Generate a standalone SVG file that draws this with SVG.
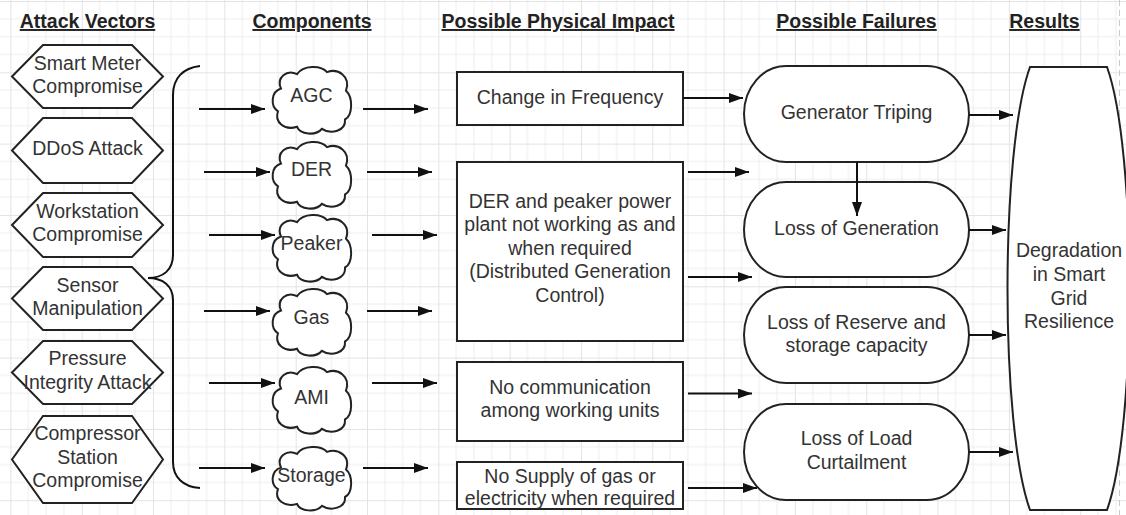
<svg xmlns="http://www.w3.org/2000/svg" width="1126" height="515" viewBox="0 0 1126 515">
<style>
.hdr{font-family:"Liberation Sans",Arial,sans-serif;font-size:19.5px;font-weight:bold;fill:#222;text-anchor:middle;text-decoration:underline}
.t{font-family:"Liberation Sans",Arial,sans-serif;font-size:19.5px;fill:#333;text-anchor:middle}
.shp{fill:#fff;stroke:#222;stroke-width:2}
.cl{fill:#fff;stroke:#222;stroke-width:2;vector-effect:non-scaling-stroke}
.con{fill:none;stroke:#111;stroke-width:2}
.arr{fill:none;stroke:#111;stroke-width:2;marker-end:url(#ah)}
</style>
<defs>
<pattern id="grid" patternUnits="userSpaceOnUse" x="10.4" y="1" width="71.32" height="71.32">
<path d="M0,17.83H71.32M0,35.66H71.32M0,53.49H71.32M17.83,0V71.32M35.66,0V71.32M53.49,0V71.32" stroke="#ededed" stroke-width="1" fill="none"/>
<path d="M0,0.5H71.32M0.5,0V71.32" stroke="#e3e3e3" stroke-width="1" fill="none"/>
</pattern>
<marker id="ah" markerUnits="userSpaceOnUse" markerWidth="14" markerHeight="10" refX="14" refY="5" orient="auto">
<path d="M0,0L14,5L0,10Z" fill="#111"/>
</marker>
<path id="cloud" d="M8,20C3,9 14,1 24,6C30,-3 48,-3 54,4C65,0 78,8 73,22C80,28 80,46 72,50C73,61 58,65 49,59C43,66 27,65 24,57C12,61 1,53 5,42C-3,37 -2,23 8,20Z"/>
</defs>
<rect width="1126" height="515" fill="#fff"/>
<rect width="1126" height="515" fill="url(#grid)"/>
<line x1="1119.5" y1="0" x2="1119.5" y2="515" stroke="#c8c8c8" stroke-width="1" stroke-dasharray="6,4"/>

<g id="headers">
<text class="hdr" x="87.5" y="28">Attack Vectors</text>
<text class="hdr" x="312" y="28">Components</text>
<text class="hdr" x="558" y="28">Possible Physical Impact</text>
<text class="hdr" x="856.5" y="28">Possible Failures</text>
<text class="hdr" x="1044.5" y="28">Results</text>
</g>

<g id="av-smart-meter"><polygon class="shp" points="12,76.5 43,45 132,45 163,76.5 132,108 43,108"/><text class="t" x="87.5" y="70">Smart Meter</text><text class="t" x="87.5" y="93">Compromise</text></g>
<g id="av-ddos"><polygon class="shp" points="12,150.5 43,118 132,118 163,150.5 132,183 43,183"/><text class="t" x="87.5" y="155">DDoS Attack</text></g>
<g id="av-workstation"><polygon class="shp" points="12,225 43,193 132,193 163,225 132,257 43,257"/><text class="t" x="87.5" y="218">Workstation</text><text class="t" x="87.5" y="241">Compromise</text></g>
<g id="av-sensor"><polygon class="shp" points="12,298.5 43,267 132,267 163,298.5 132,330 43,330"/><text class="t" x="87.5" y="291.5">Sensor</text><text class="t" x="87.5" y="315">Manipulation</text></g>
<g id="av-pressure"><polygon class="shp" points="12,372.5 43,341 132,341 163,372.5 132,404 43,404"/><text class="t" x="87.5" y="365">Pressure</text><text class="t" x="87.5" y="388.5">Integrity Attack</text></g>
<g id="av-compressor"><polygon class="shp" points="12,459.5 43,416 132,416 163,459.5 132,503 43,503"/><text class="t" x="87.5" y="440">Compressor</text><text class="t" x="87.5" y="463.5">Station</text><text class="t" x="87.5" y="487">Compromise</text></g>

<g id="brace"><path class="con" d="M200,66C183,68 173,78 173,95L173,255C173,270 163,278 148,278C163,278 173,286 173,300L173,462C173,477 183,487 200,488"/></g>

<g id="c-agc"><use href="#cloud" class="cl" transform="translate(273,68) scale(1,1.03)"/><text class="t" x="311.5" y="102">AGC</text></g>
<g id="c-der"><use href="#cloud" class="cl" transform="translate(273,143) scale(1,1.03)"/><text class="t" x="311.5" y="176">DER</text></g>
<g id="c-peaker"><use href="#cloud" class="cl" transform="translate(273,216) scale(1,1.03)"/><text class="t" x="311.5" y="249.5">Peaker</text></g>
<g id="c-gas"><use href="#cloud" class="cl" transform="translate(273,290) scale(1,1.03)"/><text class="t" x="311.5" y="323.5">Gas</text></g>
<g id="c-ami"><use href="#cloud" class="cl" transform="translate(273,368) scale(1,1.03)"/><text class="t" x="311.5" y="403.5">AMI</text></g>
<g id="c-storage"><use href="#cloud" class="cl" transform="translate(273,448) scale(1,0.98)"/><text class="t" x="311.5" y="482">Storage</text></g>

<g id="pi-frequency"><rect class="shp" x="457" y="72" width="226" height="53"/><text class="t" x="570" y="103.5">Change in Frequency</text></g>
<g id="pi-der"><rect class="shp" x="457" y="162" width="226" height="179"/><text class="t" x="570" y="207.5">DER and peaker power</text><text class="t" x="570" y="231">plant not working as and</text><text class="t" x="570" y="254.5">when required</text><text class="t" x="570" y="277.5">(Distributed Generation</text><text class="t" x="570" y="302">Control)</text></g>
<g id="pi-comm"><rect class="shp" x="457" y="362" width="226" height="79"/><text class="t" x="570" y="394">No communication</text><text class="t" x="570" y="417">among working units</text></g>
<g id="pi-supply"><rect class="shp" x="457" y="462" width="226" height="47"/><text class="t" x="570" y="482.5">No Supply of gas or</text><text class="t" x="570" y="504.5">electricity when required</text></g>

<g id="pf-gen-trip"><rect class="shp" x="744" y="66" width="225" height="96" rx="42" ry="48"/><text class="t" x="856.5" y="118.5">Generator Triping</text></g>
<g id="pf-loss-gen"><rect class="shp" x="744" y="182" width="225" height="95" rx="42" ry="47.5"/><text class="t" x="856.5" y="234.5">Loss of Generation</text></g>
<g id="pf-reserve"><rect class="shp" x="744" y="287" width="225" height="96" rx="42" ry="48"/><text class="t" x="856.5" y="328.5">Loss of Reserve and</text><text class="t" x="856.5" y="352">storage capacity</text></g>
<g id="pf-load"><rect class="shp" x="744" y="404" width="225" height="96" rx="42" ry="48"/><text class="t" x="856.5" y="445">Loss of Load</text><text class="t" x="856.5" y="468.5">Curtailment</text></g>

<g id="result"><path class="shp" d="M1030,67L1107,67C1137,150 1137,427 1107,510L1030,510C1000,427 1000,150 1030,67Z"/><text class="t" x="1069" y="257">Degradation</text><text class="t" x="1069" y="281">in Smart</text><text class="t" x="1069" y="304.5">Grid</text><text class="t" x="1069" y="328">Resilience</text></g>

<g id="connectors">
<line class="arr" x1="199" y1="109" x2="265" y2="109"/>
<line class="arr" x1="204" y1="172" x2="270" y2="172"/>
<line class="arr" x1="209" y1="235" x2="275" y2="235"/>
<line class="arr" x1="204" y1="311" x2="270" y2="311"/>
<line class="arr" x1="209" y1="383" x2="275" y2="383"/>
<line class="arr" x1="199" y1="468" x2="265" y2="468"/>
<line class="arr" x1="363" y1="109" x2="428" y2="109"/>
<line class="arr" x1="367" y1="172" x2="432" y2="172"/>
<line class="arr" x1="372" y1="235" x2="437" y2="235"/>
<line class="arr" x1="367" y1="311" x2="432" y2="311"/>
<line class="arr" x1="372" y1="383" x2="437" y2="383"/>
<line class="arr" x1="363" y1="468" x2="428" y2="468"/>
<line class="arr" x1="683" y1="98" x2="743" y2="98"/>
<line class="arr" x1="688" y1="172" x2="749" y2="172"/>
<line class="arr" x1="688" y1="277" x2="752" y2="277"/>
<line class="arr" x1="688" y1="393.5" x2="752" y2="393.5"/>
<line class="arr" x1="688" y1="488" x2="757" y2="488"/>
<line class="arr" x1="857" y1="162" x2="857" y2="216"/>
<line class="arr" x1="969" y1="115" x2="1013" y2="115"/>
<line class="arr" x1="969" y1="230" x2="1006" y2="230"/>
<line class="arr" x1="969" y1="335" x2="1006" y2="335"/>
<line class="arr" x1="969" y1="452" x2="1013" y2="452"/>
</g>
</svg>
